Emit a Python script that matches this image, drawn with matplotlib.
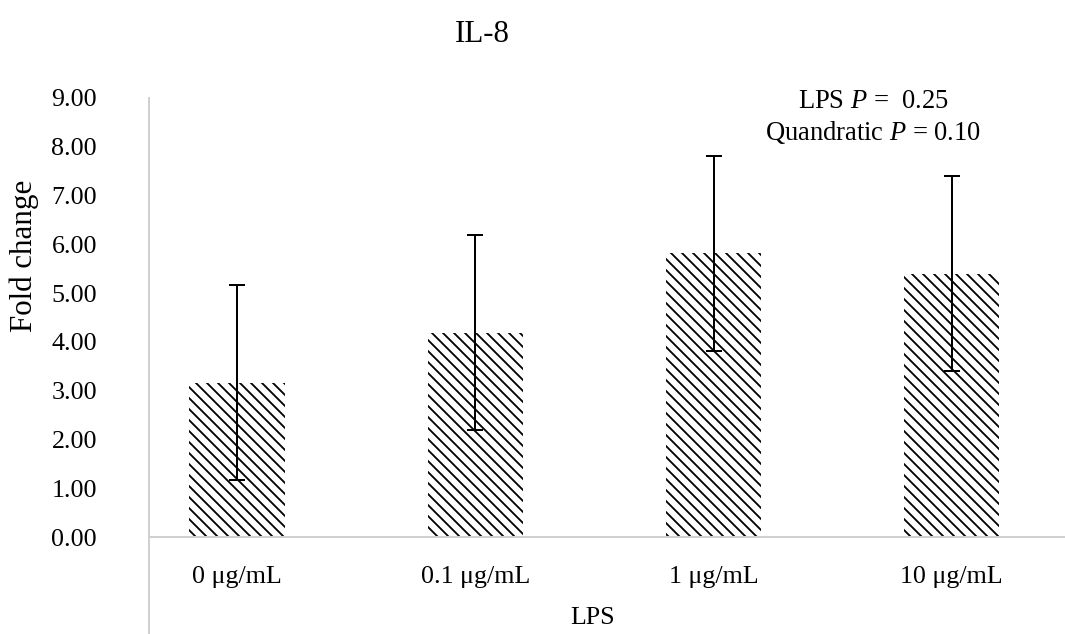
"""
IL-8 fold change by LPS dose, bar chart with SD error bars.
"""

import numpy as np
import matplotlib
matplotlib.use("Agg")
import matplotlib.pyplot as plt

# ── Data ──────────────────────────────────────────────────────────
categories = ["0 μg/mL", "0.1 μg/mL", "1 μg/mL", "10 μg/mL"]
fold_change = [3.17, 4.19, 5.82, 5.40]
errors = [2.00, 2.00, 2.00, 2.00]
y_ticks = [0, 1, 2, 3, 4, 5, 6, 7, 8, 9]
annot_lines = ["LPS $P$ =  0.25", "Quandratic $P$ = 0.10"]

# ── Style ─────────────────────────────────────────────────────────
DPI = 132                      # hatch spacing scales with dpi
W, H = 1065, 634
pt = 72 / DPI                  # px -> pt

plt.rcParams["font.family"] = ["Liberation Serif", "DejaVu Serif"]
plt.rcParams["mathtext.fontset"] = "custom"
plt.rcParams["mathtext.rm"] = "Liberation Serif"
plt.rcParams["mathtext.it"] = "Liberation Serif:italic"
plt.rcParams["hatch.linewidth"] = 1.0
plt.rcParams["hatch.color"] = "black"

fig = plt.figure(figsize=(W / DPI, H / DPI), dpi=DPI)
ax = fig.add_axes([149 / W, 0, (W - 149) / W, (H - 98) / H])

x = np.arange(len(categories))
ax.bar(x, fold_change, width=0.40, color="white", edgecolor="black",
       linewidth=0, hatch="\\\\\\\\")
ax.errorbar(x, fold_change, yerr=errors, fmt="none", ecolor="black",
            elinewidth=2.0 * pt, capsize=8 * pt, capthick=2.0 * pt)

ax.set_xlim(-0.369, 3.475)
ax.set_ylim(-(H - 537) / 48.9, 9)

ax.set_yticks(y_ticks)
ax.set_yticklabels([f"{v:.2f}" for v in y_ticks])
ax.set_xticks(x)
ax.set_xticklabels(categories)
ax.tick_params(axis="y", length=0, pad=52 * pt, labelsize=26 * pt)
ax.tick_params(axis="x", length=0, pad=29 * pt, labelsize=26 * pt)

for side in ("top", "right"):
    ax.spines[side].set_visible(False)
ax.spines["left"].set_color("#d0d0d0")
ax.spines["left"].set_linewidth(2 * pt)
ax.spines["bottom"].set_color("#d0d0d0")
ax.spines["bottom"].set_linewidth(2 * pt)
ax.spines["bottom"].set_position(("data", 0))

ax.set_xlabel("LPS", fontsize=26 * pt, va="center")
ax.xaxis.set_label_coords((593 - 149) / (W - 149), (H - 618) / (H - 98))
ax.set_ylabel("Fold change", fontsize=31 * pt, va="center")
ax.yaxis.set_label_coords((24 - 149) / (W - 149), (H - 256) / (H - 98))

fig.text(482 / W, 1 - 35 / H, "IL-8", fontsize=31 * pt,
         ha="center", va="center")
for i, line in enumerate(annot_lines):
    fig.text(873 / W, 1 - (102 + 31 * i) / H, line, fontsize=26.5 * pt,
             ha="center", va="center")

plt.savefig("out.png", dpi=DPI)
plt.close()
